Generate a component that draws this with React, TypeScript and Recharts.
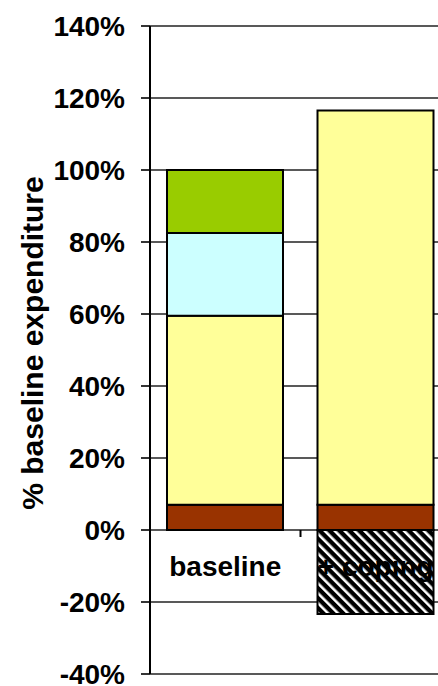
import { Bar, BarChart, CartesianGrid, XAxis, YAxis } from "recharts";

const categories = ["baseline", "+ coping"];
const brownPart = [7, 7];
const yellowPart = [52.5, 109.5];
const cyanPart = [23, 0];
const greenPart = [17.5, 0];
const copingLoss = [0, -23.3];
const yTicks = [-40, -20, 0, 20, 40, 60, 80, 100, 120, 140];

const data = categories.map((name, i) => ({
  name,
  brown: brownPart[i],
  yellow: yellowPart[i],
  cyan: cyanPart[i],
  green: greenPart[i],
  loss: copingLoss[i],
}));

const FONT = "'Liberation Sans', Arial, sans-serif";

function CategoryTick(props: any) {
  const { x, y, payload, index } = props;
  const half = payload?.offset ?? 0;
  return (
    <g>
      <text
        x={x}
        y={y - 98}
        textAnchor="middle"
        fontFamily={FONT}
        fontWeight="bold"
        fontSize={28}
        fill="#000"
      >
        {payload.value}
      </text>
      {index === 0 && (
        <line x1={x + half} x2={x + half} y1={y - 144} y2={y - 137} stroke="#000" strokeWidth={2} />
      )}
    </g>
  );
}

function YTitle(props: any) {
  const vb = props.viewBox || { x: 0, y: 0, height: 0 };
  const cx = vb.x + 43;
  const cy = vb.y + vb.height / 2 - 7;
  return (
    <text
      transform={`translate(${cx},${cy}) rotate(-90)`}
      textAnchor="middle"
      fontFamily={FONT}
      fontWeight="bold"
      fontSize={30}
      fill="#000"
    >
      % baseline expenditure
    </text>
  );
}

export default function App() {
  return (
    <div
      style={{
        position: "fixed",
        left: 0,
        top: 0,
        width: 438,
        height: 686,
        overflow: "hidden",
        background: "#fff",
      }}
    >
      <BarChart
        width={460}
        height={686}
        data={data}
        stackOffset="sign"
        barSize={116}
        margin={{ top: 26, right: 9, left: 0, bottom: 0 }}
      >
        <defs>
          <pattern
            id="hatch"
            patternUnits="userSpaceOnUse"
            width="7"
            height="7"
            patternTransform="rotate(-45)"
          >
            <rect width="7" height="7" fill="#000" />
            <rect width="2.6" height="7" fill="#fff" />
          </pattern>
        </defs>
        <CartesianGrid vertical={false} stroke="#222" strokeWidth={1.6} />
        <YAxis
          width={150}
          domain={[-40, 140]}
          ticks={yTicks}
          interval={0}
          allowDataOverflow
          tickFormatter={(v: number) => `${v}%`}
          tickSize={9}
          tickMargin={16}
          axisLine={{ stroke: "#000", strokeWidth: 2 }}
          tickLine={{ stroke: "#000", strokeWidth: 1.6 }}
          tick={{ fontFamily: FONT, fontWeight: "bold", fontSize: 28, fill: "#000" }}
          label={{ content: YTitle }}
        />
        <XAxis
          dataKey="name"
          height={12}
          axisLine={false}
          tickLine={false}
          tickSize={0}
          tickMargin={0}
          interval={0}
          tick={<CategoryTick />}
        />
        <Bar dataKey="brown" stackId="s" fill="#993300" stroke="#000" strokeWidth={2} isAnimationActive={false} />
        <Bar dataKey="yellow" stackId="s" fill="#FFFF99" stroke="#000" strokeWidth={2} isAnimationActive={false} />
        <Bar dataKey="cyan" stackId="s" fill="#CCFFFF" stroke="#000" strokeWidth={2} isAnimationActive={false} />
        <Bar dataKey="green" stackId="s" fill="#99CC00" stroke="#000" strokeWidth={2} isAnimationActive={false} />
        <Bar dataKey="loss" stackId="s" fill="url(#hatch)" stroke="#000" strokeWidth={2} isAnimationActive={false} />
      </BarChart>
    </div>
  );
}
